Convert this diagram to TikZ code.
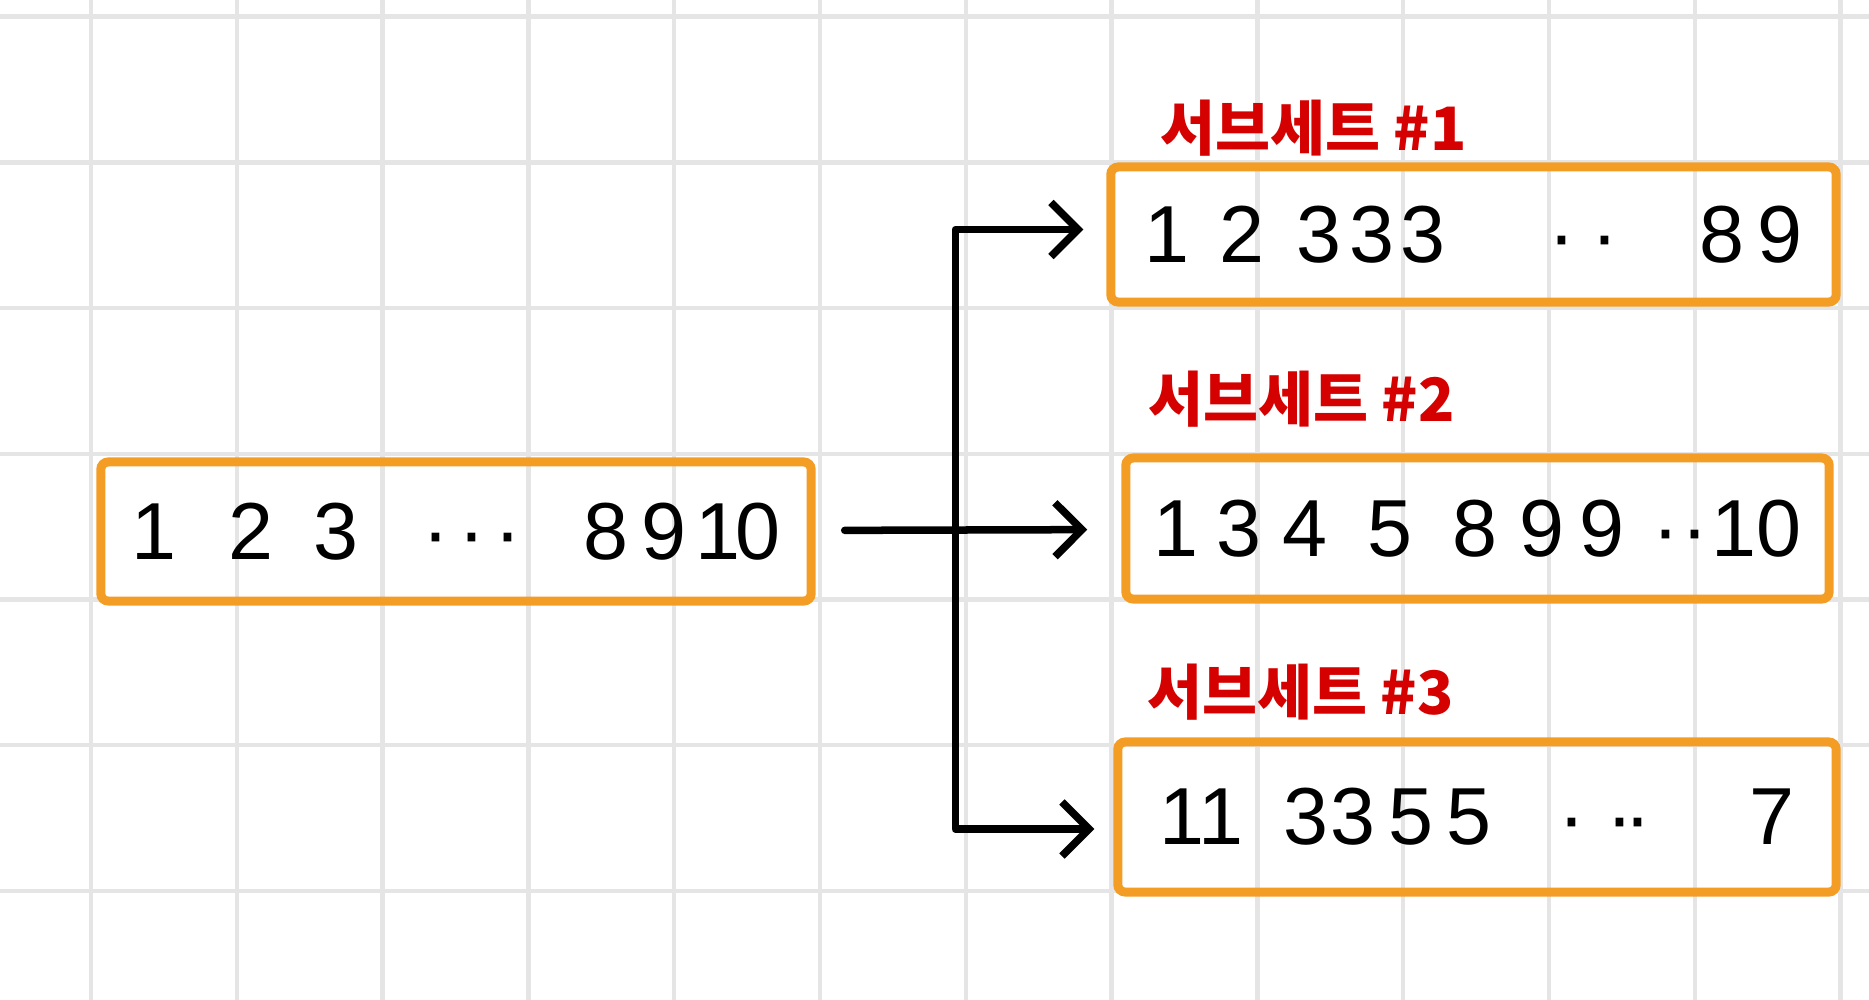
\documentclass[tikz,border=0pt]{standalone}
\usepackage{fontspec}
\setmainfont{Liberation Sans}
\newfontfamily\kofont{Noto Sans CJK KR}
\usetikzlibrary{arrows.meta, positioning, calc}
\definecolor{boxorange}{RGB}{244,157,37}
\definecolor{labelred}{RGB}{213,0,0}
\definecolor{gridgray}{RGB}{229,229,229}

\begin{document}
\begin{tikzpicture}[
    x=0.01cm, y=-0.01cm,
    gridline/.style={draw=gridgray, line width=0.045cm},
    setbox/.style={rectangle, draw=boxorange, line width=0.09cm, rounded corners=0.4ex, inner sep=0pt, font=\fontsize{23}{23}\selectfont},
    sublabel/.style={inner sep=0pt, text=labelred, font=\kofont\bfseries\fontsize{17}{17}\selectfont},
    arrow/.style={-{Straight Barb[length=0.27cm, width=0.54cm]}, line width=0.075cm, line cap=round, line join=round}
]
\useasboundingbox (0,0) rectangle (1869,1000);
\fill[white] (0,0) rectangle (1869,1000);
\foreach \i in {0,...,12}
    \draw[gridline] ({91+145.8*\i},0) -- ({91+145.8*\i},1000);
\foreach \i in {0,...,6}
    \draw[gridline] (0,{16.7+145.7*\i}) -- (1869,{16.7+145.7*\i});

\node (fullset) [setbox, minimum width=7.1cm, minimum height=1.39cm] at (456,531.5)
    {1\hspace{0.52cm}2\hspace{0.40cm}3\hspace{0.645cm}·\hspace{0.09cm}·\hspace{0.09cm}·\hspace{0.625cm}8\hspace{0.13cm}9\hspace{0.09cm}1\hspace{-0.05cm}0};
\node (subset1) [setbox, minimum width=7.25cm, minimum height=1.35cm] at (1473.5,234.5)
    {1\hspace{0.30cm}2\hspace{0.32cm}3\hspace{0.08cm}3\hspace{0.06cm}3\hspace{1.035cm}·\hspace{0.16cm}·\hspace{0.805cm}8\hspace{0.13cm}9};
\node (subset2) [setbox, minimum width=7.03cm, minimum height=1.41cm] at (1477.5,528.5)
    {1\hspace{0.18cm}3\hspace{0.21cm}4\hspace{0.40cm}5\hspace{0.40cm}8\hspace{0.22cm}9\hspace{0.16cm}9\hspace{0.275cm}·\hspace{0.02cm}·\hspace{0.035cm}10};
\node (subset3) [setbox, minimum width=7.18cm, minimum height=1.50cm] at (1477,817)
    {11\hspace{0.40cm}3\hspace{0.02cm}3\hspace{0.14cm}5\hspace{0.13cm}5\hspace{0.665cm}·\hspace{0.21cm}·\hspace{-0.09cm}·\hspace{0.985cm}7};

\node (title1) [sublabel, above right=0.05cm and 0.53cm of subset1.north west] {서브세트 \#1};
\node (title2) [sublabel, above right=0.25cm and 0.26cm of subset2.north west] {서브세트 \#2};
\node (title3) [sublabel, above right=0.16cm and 0.33cm of subset3.north west] {서브세트 \#3};

\coordinate (fork) at ($(fullset.east)!0.457!(subset2.west)$);
\draw [arrow, shorten <=0.29cm, shorten >=0.34cm] (fullset) -- (subset2);
\draw [arrow, shorten >=0.23cm] (fork) |- ([yshift=0.05cm]subset1.west);
\draw [arrow, shorten >=0.19cm] (fork) |- ([yshift=-0.12cm]subset3.west);
\end{tikzpicture}
\end{document}
